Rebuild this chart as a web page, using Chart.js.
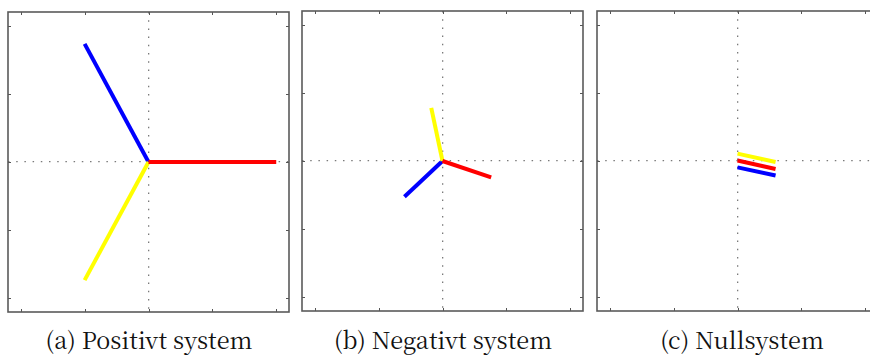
<!DOCTYPE html>
<html>
<head>
<meta charset="utf-8">
<script src="https://cdn.jsdelivr.net/npm/chart.js@4.4.1/dist/chart.umd.min.js"></script>
<style>
  html, body { margin: 0; padding: 0; background: #fff; overflow: hidden; }
  body { position: relative; width: 870px; height: 355px; }
  canvas { position: absolute; }
  .caption {
    position: absolute; top: 325px; width: 300px; text-align: center;
    font-family: 'Noto Serif CJK SC', 'Liberation Serif', serif; font-size: 23.5px;
    line-height: 28px; color: #111; white-space: nowrap;
  }
</style>
</head>
<body>
<canvas id="posChart" width="285" height="304" style="left:6px;top:10px"></canvas>
<canvas id="negChart" width="285" height="304" style="left:300px;top:9px"></canvas>
<canvas id="zeroChart" width="285" height="304" style="left:595px;top:9px"></canvas>
<div class="caption" style="left:-1px">(a) Positivt system</div>
<div class="caption" style="left:293px">(b) Negativt system</div>
<div class="caption" style="left:592px">(c) Nullsystem</div>

<script>
// phase order and colours
const phases = ["L1", "L2", "L3"];
const phaseColors = ["#ff0000", "#ffff00", "#0000ff"];

// axis tick positions (no labels shown)
const tickValues = [-1, -0.5, 0, 0.5, 1];

// positive sequence phasors: start and end points
const posStartX = [0, 0, 0];
const posStartY = [0, 0, 0];
const posEndX = [1, -0.5, -0.5];
const posEndY = [0, -0.866, 0.866];

// negative sequence phasors
const negStartX = [0, 0, 0];
const negStartY = [0, 0, 0];
const negEndX = [0.381, -0.088, -0.298];
const negEndY = [-0.12, 0.389, -0.262];

// zero sequence phasors (equal, drawn slightly apart)
const zeroStartX = [0, 0, 0];
const zeroStartY = [0.004, 0.054, -0.047];
const zeroEndX = [0.298, 0.298, 0.298];
const zeroEndY = [-0.059, -0.007, -0.106];

// frame with inward tick marks on all four sides
const frameTicks = {
    id: "frameTicks",
    afterDraw(chart) {
        const { ctx, chartArea: a, scales } = chart;
        ctx.save();
        ctx.strokeStyle = "#555";
        ctx.lineWidth = 1;
        const len = 3;
        ctx.beginPath();
        tickValues.forEach((v) => {
            const x = Math.round(scales.x.getPixelForValue(v)) + 0.5;
            ctx.moveTo(x, a.top);
            ctx.lineTo(x, a.top + len);
            ctx.moveTo(x, a.bottom);
            ctx.lineTo(x, a.bottom - len);
            const y = Math.round(scales.y.getPixelForValue(v)) + 0.5;
            ctx.moveTo(a.left, y);
            ctx.lineTo(a.left + len, y);
            ctx.moveTo(a.right, y);
            ctx.lineTo(a.right - len, y);
        });
        ctx.stroke();
        ctx.lineWidth = 1.6;
        ctx.strokeStyle = "#5a5a5a";
        ctx.strokeRect(a.left, a.top, a.right - a.left, a.bottom - a.top);
        ctx.restore();
    },
};

function makeDatasets(sx, sy, ex, ey) {
    return phases.map((name, i) => ({
        label: name,
        data: [
            { x: sx[i], y: sy[i] },
            { x: ex[i], y: ey[i] },
        ],
        showLine: true,
        borderColor: phaseColors[i],
        backgroundColor: phaseColors[i],
        borderWidth: 4,
        pointRadius: 0,
        order: i,
    }));
}

function axis() {
    return {
        type: "linear",
        min: -1.1,
        max: 1.1,
        ticks: { display: false, stepSize: 0.5 },
        grid: {
            drawTicks: false,
            lineWidth: 1.3,
            color: (c) => (c.tick && c.tick.value === 0 ? "#7a7a7a" : "rgba(0,0,0,0)"),
        },
        border: { display: false, dash: [1.5, 6.7] },
    };
}

function phasorChart(id, datasets) {
    new Chart(document.getElementById(id), {
        type: "scatter",
        data: { datasets },
        options: {
            responsive: false,
            animation: false,
            devicePixelRatio: 1,
            layout: { padding: 2 },
            scales: { x: axis(), y: axis() },
            plugins: { legend: { display: false }, tooltip: { enabled: false } },
        },
        plugins: [frameTicks],
    });
}

phasorChart("posChart", makeDatasets(posStartX, posStartY, posEndX, posEndY));
phasorChart("negChart", makeDatasets(negStartX, negStartY, negEndX, negEndY));
phasorChart("zeroChart", makeDatasets(zeroStartX, zeroStartY, zeroEndX, zeroEndY));
</script>
</body>
</html>
